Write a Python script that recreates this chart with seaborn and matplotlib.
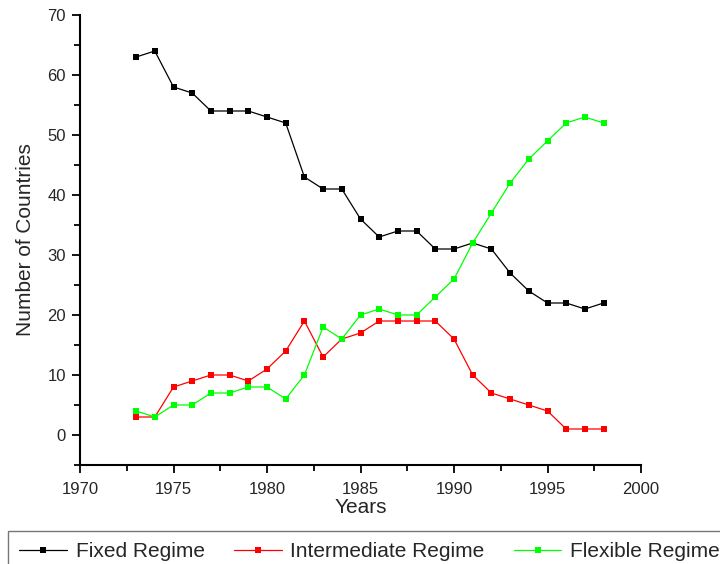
import pandas as pd
import matplotlib.pyplot as plt
import numpy as np
import seaborn as sns
from matplotlib.ticker import MultipleLocator

years = list(range(1973, 1999))
fixed = [63, 64, 58, 57, 54, 54, 54, 53, 52, 43, 41, 41, 36, 33, 34, 34, 31, 31, 32, 31, 27, 24, 22, 22, 21, 22]
intermediate = [3, 3, 8, 9, 10, 10, 9, 11, 14, 19, 13, 16, 17, 19, 19, 19, 19, 16, 10, 7, 6, 5, 4, 1, 1, 1]
flexible = [4, 3, 5, 5, 7, 7, 8, 8, 6, 10, 18, 16, 20, 21, 20, 20, 23, 26, 32, 37, 42, 46, 49, 52, 53, 52]

series_names = ['Fixed Regime', 'Intermediate Regime', 'Flexible Regime']
series_colors = ['#000000', '#ff0000', '#00ff00']

df = pd.DataFrame({'Years': years, 'Fixed Regime': fixed,
                   'Intermediate Regime': intermediate, 'Flexible Regime': flexible})
df = df.melt(id_vars='Years', var_name='Regime', value_name='Countries')

sns.set_style('ticks')
plt.rcParams['font.family'] = ['Liberation Sans', 'DejaVu Sans']

fig = plt.figure(figsize=(7.2, 5.64), dpi=100)
ax = fig.add_axes([80 / 720, 1 - 465 / 564, 561 / 720, 450 / 564])

sns.lineplot(data=df, x='Years', y='Countries', hue='Regime', hue_order=series_names,
             palette=series_colors, marker='s', markersize=5, markeredgewidth=0,
             linewidth=0.9, ax=ax, legend=False)

ax.set_xlim(1970, 2000)
ax.set_ylim(-5, 70)
ax.xaxis.set_major_locator(MultipleLocator(5))
ax.xaxis.set_minor_locator(MultipleLocator(2.5))
ax.yaxis.set_minor_locator(MultipleLocator(5))
ax.set_yticks([0, 10, 20, 30, 40, 50, 60, 70])
ax.tick_params(which='both', direction='out', width=1.3, labelsize=12, color='black')
ax.tick_params(axis='x', pad=6)
ax.tick_params(axis='y', pad=4)
ax.tick_params(which='major', length=6)
ax.tick_params(which='minor', length=4)
for s in ['left', 'bottom']:
    ax.spines[s].set_linewidth(1.5)
    ax.spines[s].set_color('black')
sns.despine(ax=ax)
ax.set_xlabel('Years', fontsize=15, labelpad=1)
ax.set_ylabel('Number of Countries', fontsize=15, labelpad=9)

handles = [plt.Line2D([], [], color=c, marker='s', markersize=5, markeredgewidth=0, linewidth=0.9)
           for c in series_colors]
leg = fig.legend(handles, series_names, loc='upper left', bbox_to_anchor=(8 / 720, 1 - 531 / 564),
                 ncol=3, fontsize=15, frameon=True, fancybox=False, handlelength=2.3,
                 columnspacing=1.4, handletextpad=0.4, borderpad=0.55, borderaxespad=0)
leg.get_frame().set_edgecolor('#555555')
leg.get_frame().set_linewidth(1)

fig.savefig('out.png', dpi=100)
